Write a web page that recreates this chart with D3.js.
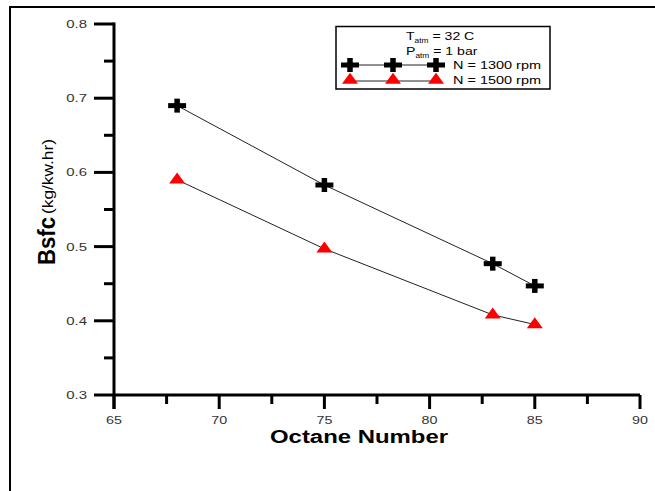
<!DOCTYPE html>
<html><head><meta charset="utf-8">
<script src="https://cdn.jsdelivr.net/npm/d3@7"></script>
<style>body{margin:0;background:#fff}svg{display:block;font-family:"Liberation Sans",Arial,sans-serif}</style>
</head><body>
<svg id="c" width="655" height="491"></svg>
<script>
const octane = [68, 75, 83, 85];
const bsfc1300 = [0.690, 0.583, 0.477, 0.447];
const bsfc1500 = [0.590, 0.497, 0.408, 0.395];
const xTicks = [65, 70, 75, 80, 85, 90];
const yTicks = [0.3, 0.4, 0.5, 0.6, 0.7, 0.8];
const seriesNames = ["N = 1300 rpm", "N = 1500 rpm"];

const svg = d3.select("#c");
function stretch(sel, k){
  sel.each(function(){
    const L = this.getComputedTextLength();
    d3.select(this).attr("textLength", L*k).attr("lengthAdjust","spacingAndGlyphs");
  });
}
// outer frame
svg.append("line").attr("x1",9).attr("x2",655).attr("y1",7).attr("y2",7).attr("stroke","#000").attr("stroke-width",2);
svg.append("line").attr("x1",10).attr("x2",10).attr("y1",6).attr("y2",491).attr("stroke","#000").attr("stroke-width",2);

const x = d3.scaleLinear().domain([65,90]).range([114,640]);
const y = d3.scaleLinear().domain([0.3,0.8]).range([395,24]);

const ax = svg.append("g");
const xMinor = d3.range(67.5, 90, 5);
const yMinor = d3.range(0.35, 0.8, 0.1);
ax.selectAll(".xm").data(xMinor).enter().append("line")
  .attr("x1",d=>x(d)).attr("x2",d=>x(d)).attr("y1",y(0.3)).attr("y2",y(0.3)+9)
  .attr("stroke","#000").attr("stroke-width",3);
ax.selectAll(".ym").data(yMinor).enter().append("line")
  .attr("x1",x(65)-10).attr("x2",x(65)).attr("y1",d=>y(d)).attr("y2",d=>y(d))
  .attr("stroke","#000").attr("stroke-width",3);
ax.selectAll(".xM").data(xTicks).enter().append("line")
  .attr("x1",d=>x(d)).attr("x2",d=>x(d)).attr("y1",y(0.3)).attr("y2",y(0.3)+14)
  .attr("stroke","#000").attr("stroke-width",3);
ax.selectAll(".yM").data(yTicks).enter().append("line")
  .attr("x1",x(65)-20).attr("x2",x(65)).attr("y1",d=>y(d)).attr("y2",d=>y(d))
  .attr("stroke","#000").attr("stroke-width",3);
ax.append("line").attr("x1",x(65)).attr("x2",x(90)).attr("y1",y(0.3)).attr("y2",y(0.3)).attr("stroke","#000").attr("stroke-width",3);
ax.append("line").attr("x1",x(65)).attr("x2",x(65)).attr("y1",y(0.8)-1.5).attr("y2",y(0.3)+14).attr("stroke","#000").attr("stroke-width",3);
// tick labels
ax.selectAll(".xl").data(xTicks).enter().append("text")
  .attr("x",d=>x(d)).attr("y",y(0.3)+28.5).attr("text-anchor","middle")
  .attr("font-size",11).attr("fill","#333").text(d=>d).call(stretch,1.3);
ax.selectAll(".yl").data(yTicks).enter().append("text")
  .attr("x",x(65)-27).attr("y",d=>y(d)+4).attr("text-anchor","end")
  .attr("font-size",11.5).attr("fill","#333").text(d=>d.toFixed(1)).call(stretch,1.3);
// axis titles
svg.append("text").attr("x",359).attr("y",442.5).attr("text-anchor","middle")
  .attr("font-size",18).attr("font-weight","bold").attr("textLength",178).attr("lengthAdjust","spacingAndGlyphs").text("Octane Number");
svg.append("text").attr("transform","translate(55,265) rotate(-90)").attr("text-anchor","start")
  .attr("font-size",23).attr("font-weight","bold").attr("textLength",48).attr("lengthAdjust","spacingAndGlyphs").text("Bsfc");
svg.append("text").attr("transform","translate(53,214) rotate(-90)").attr("text-anchor","start")
  .attr("font-size",14).attr("textLength",75).attr("lengthAdjust","spacingAndGlyphs").text("(kg/kw.hr)");

// symbols
const triPath = "M0,-7.3L8,3.7L-8,3.7Z";
function drawCross(g, cx, cy){
  g.append("line").attr("x1",cx-9).attr("x2",cx+9).attr("y1",cy).attr("y2",cy).attr("stroke","#000").attr("stroke-width",5);
  g.append("line").attr("x1",cx).attr("x2",cx).attr("y1",cy-7).attr("y2",cy+7).attr("stroke","#000").attr("stroke-width",5.5);
}
function drawTri(g, cx, cy){
  g.append("path").attr("d", triPath).attr("transform",`translate(${cx},${cy})`).attr("fill","#f00");
}

const line = d3.line().x(d=>x(d[0])).y(d=>y(d[1]));
const d1 = octane.map((o,i)=>[o,bsfc1300[i]]);
const d2 = octane.map((o,i)=>[o,bsfc1500[i]]);
svg.append("path").attr("d",line(d1)).attr("fill","none").attr("stroke","#222").attr("stroke-width",1);
svg.append("path").attr("d",line(d2)).attr("fill","none").attr("stroke","#222").attr("stroke-width",1);
const mk = svg.append("g");
d1.forEach(d=>drawCross(mk, x(d[0]), y(d[1])));
d2.forEach(d=>drawTri(mk, x(d[0]), y(d[1])));

// legend
const lg = svg.append("g");
lg.append("rect").attr("x",336).attr("y",26.5).attr("width",214).attr("height",62.5).attr("fill","#fff").attr("stroke","#000").attr("stroke-width",1.5);
const t1 = lg.append("text").attr("x",406).attr("y",40).attr("font-size",11);
t1.append("tspan").text("T");
t1.append("tspan").attr("font-size",6.5).attr("dy",3).text("atm");
t1.append("tspan").attr("dy",-3).text(" = 32 C");
const t2 = lg.append("text").attr("x",406).attr("y",55).attr("font-size",11);
t2.append("tspan").text("P");
t2.append("tspan").attr("font-size",6.5).attr("dy",3).text("atm");
t2.append("tspan").attr("dy",-3).text(" = 1 bar");
[t1,t2].forEach(t=>{ const L=t.node().getComputedTextLength(); t.attr("textLength",L*1.28).attr("lengthAdjust","spacingAndGlyphs"); });
const lx = [350, 393, 436];
lg.append("line").attr("x1",350).attr("x2",436).attr("y1",65).attr("y2",65).attr("stroke","#222");
lx.forEach(v=>drawCross(lg, v, 65));
lg.append("line").attr("x1",350).attr("x2",436).attr("y1",81).attr("y2",81).attr("stroke","#222");
lx.forEach(v=>drawTri(lg, v, 80));
lg.append("text").attr("x",453).attr("y",69).attr("font-size",11).attr("textLength",88).attr("lengthAdjust","spacingAndGlyphs").text(seriesNames[0]);
lg.append("text").attr("x",453).attr("y",84).attr("font-size",11).attr("textLength",88).attr("lengthAdjust","spacingAndGlyphs").text(seriesNames[1]);
</script>
</body></html>
